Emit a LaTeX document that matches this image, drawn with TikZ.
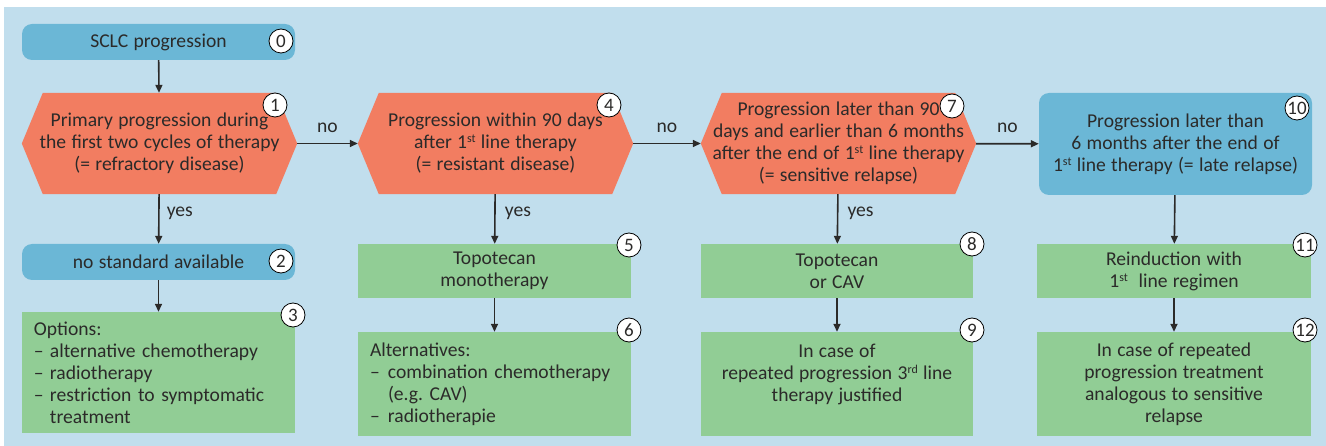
\documentclass[tikz,border=0pt]{standalone}
\usepackage{fontspec}
\setmainfont[WordSpace=1.2]{Carlito}
\usetikzlibrary{arrows.meta,backgrounds,calc}

\definecolor{panelblue}{HTML}{C1DEED}
\definecolor{boxblue}{HTML}{6BB7D6}
\definecolor{hexorange}{HTML}{F27D61}
\definecolor{boxgreen}{HTML}{91CD95}
\definecolor{inkcol}{HTML}{2B2A29}

% hexagonal decision shape, filled behind the text node #1
\newcommand\hexshape[1]{%
  \fill[hexorange] ($(#1.north west)+(21,0)$) -- ($(#1.north east)+(-21,0)$)
    -- (#1.east) -- ($(#1.south east)+(-21,0)$) -- ($(#1.south west)+(21,0)$)
    -- (#1.west) -- cycle;}
\newcommand\listdash[1]{\makebox[#1][l]{–}}
% small raised ordinal suffix
\newcommand\ord[1]{\raisebox{6pt}{\fontsize{12}{12}\selectfont #1}}

\begin{document}
\begin{tikzpicture}[x=1pt,y=-1pt,
  font=\fontsize{19.6}{22}\selectfont,
  every node/.style={text=inkcol},
  bluebox/.style={fill=boxblue, rounded corners=10pt, minimum width=273pt,
    minimum height=36pt, inner sep=0pt, align=center},
  hexbox/.style={minimum width=275pt, minimum height=101pt, inner sep=0pt, align=center},
  greenbox/.style={fill=boxgreen, minimum width=273pt, inner sep=0pt, align=center},
  listbox/.style={fill=boxgreen, text width=249pt, inner xsep=12pt, inner ysep=0pt, align=left},
  badge/.style={circle, draw=black, line width=0.8pt, fill=white, minimum size=24pt,
    inner sep=0pt, font=\fontsize{19}{19}\selectfont},
  flow/.style={line width=1.6pt, draw=inkcol, -{Triangle[length=8pt,width=7pt]}},
  edgelabel/.style={font=\fontsize{19.6}{22}\selectfont, inner sep=0pt},
]
\useasboundingbox (0,0) rectangle (1326,446);

% column 1
\node[bluebox] (n0) at (158.5,42) {SCLC progression};
\node[hexbox] (n1) at (159.5,143.5) {Primary progression during\\the first two cycles of therapy\\(= refractory disease)};
\node[bluebox] (n2) at (158.5,262) {no standard available};
\node[listbox, minimum height=121pt] (n3) at (158.5,372.5) {Options:\\\listdash{16pt}alternative chemotherapy\\\listdash{16pt}radiotherapy\\\listdash{16pt}restriction to symptomatic\\\hspace*{16pt}treatment};

% column 2
\node[hexbox] (n4) at (495.5,143.5) {Progression within 90 days\\after 1\ord{st} line therapy\\(= resistant disease)};
\node[greenbox, minimum height=54pt] (n5) at (494.5,271) {Topotecan\\monotherapy};
\node[listbox, minimum height=104pt] (n6) at (494.5,384) {Alternatives:\\\listdash{18pt}combination chemotherapy\\\hspace*{18pt}(e.g.\ CAV)\\\listdash{18pt}radiotherapie};

% column 3
\node[hexbox] (n7) at (838.5,143.5) {Progression later than 90\\days and earlier than 6 months\\after the end of 1\ord{st} line therapy\\(= sensitive relapse)};
\node[greenbox, minimum width=272pt, minimum height=54pt] (n8) at (837,271) {Topotecan\\or CAV};
\node[greenbox, minimum width=272pt, minimum height=104pt] (n9) at (837,384) {In case of\\repeated progression 3\ord{rd} line\\therapy justified\\\mbox{}};

% column 4
\node[bluebox, minimum height=102pt] (n10) at (1175.5,144) {Progression later than\\6 months after the end of\\1\ord{st} line therapy (= late relapse)};
\node[greenbox, minimum width=274pt, minimum height=54pt] (n11) at (1174,271) {Reinduction with\\1\ord{st}~ line regimen};
\node[greenbox, minimum width=274pt, minimum height=104pt] (n12) at (1174,384) {In case of repeated\\progression treatment\\analogous to sensitive\\relapse};

\begin{scope}[on background layer]
  \fill[panelblue] (4,7) rectangle (1326,446);
  \hexshape{n1}
  \hexshape{n4}
  \hexshape{n7}
\end{scope}

% numbered badges
\node[badge] (b0) at (281,41) {0};
\node[badge] (b1) at (275,105) {1};
\node[badge] (b2) at (281,261) {2};
\node[badge] (b3) at (293,315) {3};
\node[badge] (b4) at (609,105) {4};
\node[badge] (b5) at (629,245) {5};
\node[badge] (b6) at (629,330) {6};
\node[badge] (b7) at (952,106) {7};
\node[badge] (b8) at (972,244) {8};
\node[badge] (b9) at (972,330) {9};
\node[badge] (b10) at (1297,108) {10};
\node[badge] (b11) at (1305,245) {11};
\node[badge] (b12) at (1305,330) {12};

% connectors
\draw[flow] (n0) -- (n1);
\draw[flow] (n1) -- node[edgelabel, midway, xshift=21pt, yshift=6pt] {yes} (n2);
\draw[flow] (n2) -- (n3);
\draw[flow] (n1) -- node[edgelabel, midway, yshift=16pt] {no} (n4);
\draw[flow] (n4) -- node[edgelabel, midway, xshift=23pt, yshift=6pt] {yes} (n5);
\draw[flow] (n5) -- (n6);
\draw[flow] (n4) -- node[edgelabel, midway, yshift=16pt] {no} (n7);
\draw[flow] (n7) -- node[edgelabel, midway, xshift=23pt, yshift=6pt] {yes} (n8);
\draw[flow] (n8) -- (n9);
\draw[flow] (n7) -- node[edgelabel, midway, yshift=16pt] {no} (n10);
\draw[flow] (n10) -- (n11);
\draw[flow] (n11) -- (n12);
\end{tikzpicture}
\end{document}
